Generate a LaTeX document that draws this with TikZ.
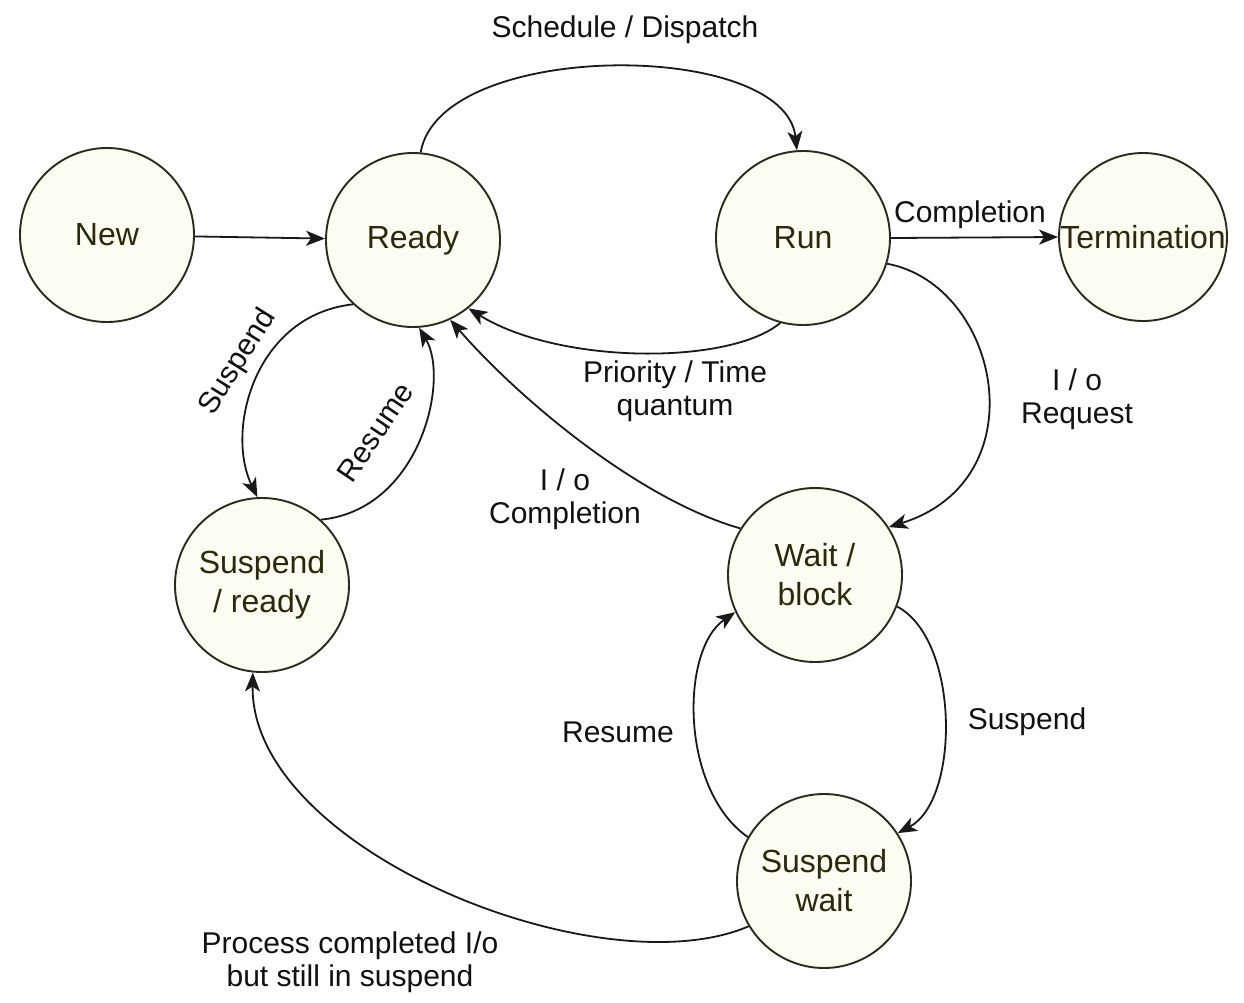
\documentclass[tikz,border=0pt]{standalone}
\usepackage{fontspec}
\setmainfont{Liberation Sans}
\usetikzlibrary{arrows.meta}
\definecolor{circfill}{HTML}{FBFCF2}
\definecolor{circline}{HTML}{2B2B1B}
\definecolor{statetext}{HTML}{2A2A0A}
\definecolor{labtext}{HTML}{111111}
\tikzset{
  state/.style={circle, draw=circline, fill=circfill, line width=1.9pt, minimum size=174pt, inner sep=0pt,
    text=statetext, align=center, font=\fontsize{32}{39}\selectfont},
  lab/.style={text=labtext, align=center, font=\fontsize{30}{33}\selectfont, inner sep=0pt},
  conn/.style={draw=black!90, line width=1.8pt, -{Stealth[length=19pt,width=15pt,inset=5pt]}}
}
\begin{document}
\begin{tikzpicture}[x=1pt,y=-1pt]
\useasboundingbox (0,0) rectangle (1244,1002);
% states
\node[state] (new) at (107,235) {New};
\node[state] (ready) at (413,240) {Ready};
\node[state] (run) at (803,238) {Run};
\node[state, minimum size=168pt] (term) at (1143,237) {Termination};
\node[state] (sr) at (262,585) {Suspend\\/ ready};
\node[state] (ww) at (815,575) {Wait /\\block};
\node[state] (sw) at (824,881) {Suspend\\wait};
% connectors
\draw[conn] (new) -- (ready);
\draw[conn] (ready.85) .. controls (440,39) and (785,39) .. (run.94);
\draw[conn] (run.east) -- (term.west);
\draw[conn] (run.255) .. controls (730,365) and (560,365) .. (ready.-51);
\draw[conn] (ww.148) .. controls (640,500) and (520,400) .. (ready.-65);
\draw[conn] (ready.227) .. controls (255,315) and (225,430) .. (sr.93);
\draw[conn] (sr.48) .. controls (420,510) and (450,380) .. (ready.-86);
\draw[conn] (run.-17) .. controls (1000,285) and (1040,480) .. (ww.33);
\draw[conn] (ww.-21) .. controls (960,640) and (960,800) .. (sw.33);
\draw[conn] (sw.150) .. controls (680,790) and (680,650) .. (ww.205);
\draw[conn] (sw.211) .. controls (600,990) and (250,850) .. (sr.-96);
% labels
\node[lab] (l1) at (625,30) {Schedule / Dispatch};
\node[lab] (l2) at (970,215) {Completion};
\node[lab] (l3) at (675,391) {Priority / Time\\quantum};
\node[lab] (l4) at (565,499) {I / o\\Completion};
\node[lab] (l5) at (1077,399) {I / o\\Request};
\node[lab] (l6) at (1027,722) {Suspend};
\node[lab] (l7) at (618,732) {Resume};
\node[lab, rotate=58] (l8) at (238,362) {Suspend};
\node[lab, rotate=56] (l9) at (375,432) {Resume};
\node[lab] (l10) at (350,962) {Process completed I/o\\but still in suspend};
\end{tikzpicture}
\end{document}
